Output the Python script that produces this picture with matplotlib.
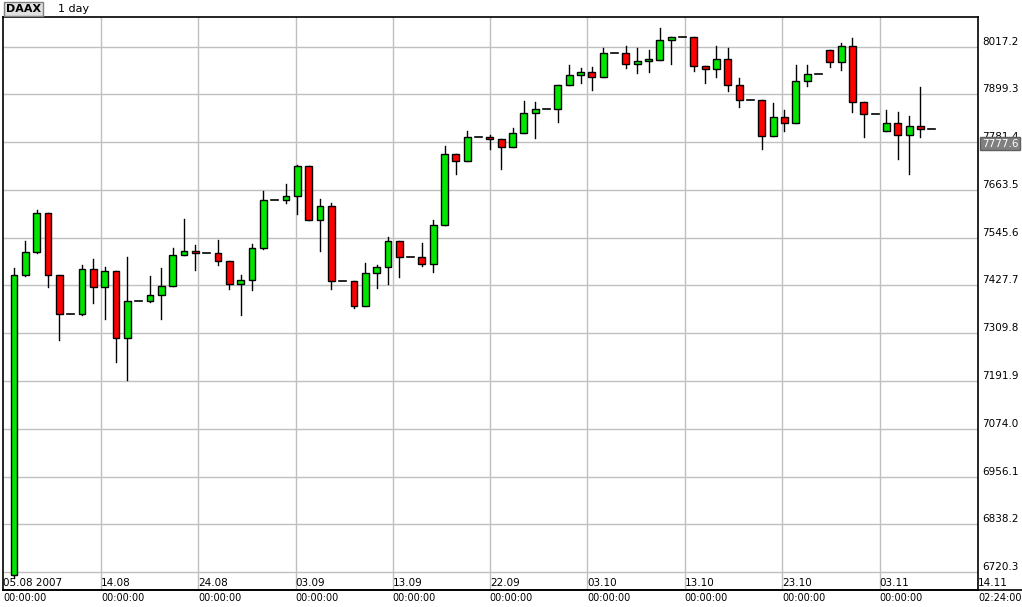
import matplotlib
matplotlib.use("Agg")
import matplotlib.pyplot as plt
from matplotlib.patches import Rectangle
import matplotlib.transforms as mtransforms

opens = [6713, 7452.9, 7509.6, 7605.9, 7452.9, 7356.6, 7356.6, 7467.7, 7424.7, 7462.8,
         7298, 7388.7, 7388.7, 7403.5, 7425.7, 7502.2, 7512.1, 7507.2, 7507.2, 7487.4,
         7430.7, 7440.5, 7519.5, 7638, 7638, 7647.9, 7722, 7588.7, 7623.2, 7438,
         7438, 7376.3, 7457.8, 7472.6, 7536.8, 7497.3, 7497.3, 7480, 7576.3, 7751.6,
         7734.3, 7793.5, 7793.5, 7788.6, 7768.9, 7803.4, 7852.8, 7862.7, 7862.7, 7921.9,
         7946.6, 7954.7, 7943.1, 8000.9, 8000.9, 7973.8, 7981.2, 7983.6, 8033, 8040.4,
         8040.4, 7968.8, 7961.4, 7986.1, 7921.9, 7884.9, 7884.9, 7796, 7842.9, 7828.1,
         7931.8, 7949, 8008.3, 7978.7, 8018.2, 7880, 7850.3, 7808.4, 7828.1, 7798.5,
         7820.7, 7813.3]
highs = [7470.9, 7537, 7614, 7606, 7453, 7356.6, 7478.3, 7493.1, 7473, 7462.8,
         7498, 7388.7, 7451, 7470.9, 7519.5, 7591.9, 7527, 7507.2, 7540, 7487.4,
         7453.6, 7529.4, 7661, 7638, 7678.3, 7725, 7722, 7641.2, 7631.4, 7438,
         7438, 7482.5, 7477.5, 7546.7, 7537, 7497.3, 7532.6, 7588.6, 7771, 7751.6,
         7808.4, 7793.5, 7798.5, 7788.6, 7816.5, 7883.2, 7880, 7862.7, 7921.9, 7972,
         7963.9, 7966.3, 8013.2, 8000.9, 8018.9, 8013.2, 8008.3, 8062.6, 8040.4, 8040.4,
         8040.4, 7968.8, 8018.2, 8013.2, 7939.2, 7884.9, 7884.9, 7877.5, 7860.2, 7971.3,
         7971.3, 7949, 8008.3, 8025.6, 8037.9, 7880, 7850.3, 7860.2, 7855.3, 7845.4,
         7917, 7813.3]
lows = [6705, 7452, 7509, 7424.7, 7293, 7356.6, 7356, 7385, 7344, 7239,
        7194, 7388.7, 7388, 7345.8, 7425.7, 7502, 7465.2, 7507.2, 7477.5, 7419.8,
        7354, 7417.3, 7519, 7638, 7630.6, 7603.5, 7588.7, 7512.1, 7419.8, 7438,
        7371.4, 7376.3, 7420.7, 7430.7, 7448, 7497.3, 7476.6, 7460.3, 7576, 7702.2,
        7734, 7793.5, 7763.9, 7716, 7768.9, 7803, 7791, 7862.7, 7832, 7921.9,
        7928.3, 7910.3, 7943, 8000.9, 7965.4, 7953, 7955.5, 7983.6, 7973.8, 8040.4,
        7956.5, 7926.9, 7941.7, 7907.1, 7869.1, 7884.9, 7763.9, 7796, 7808.4, 7828.1,
        7919.4, 7949, 7966.3, 7960.4, 7855.3, 7793.5, 7850.3, 7808.4, 7739, 7702.2,
        7793.5, 7813.3]
closes = [7453.6, 7509.6, 7605.9, 7452.9, 7356.6, 7356.6, 7467.7, 7424.7, 7462.8, 7298,
          7388.7, 7388.7, 7403.5, 7425.7, 7502.2, 7512.1, 7507.2, 7507.2, 7487.4, 7430.7,
          7440.5, 7519.5, 7638, 7638, 7647.9, 7722, 7588.7, 7623.2, 7438, 7438,
          7376.3, 7457.8, 7472.6, 7536.8, 7497.3, 7497.3, 7480, 7576.3, 7751.6, 7734.3,
          7793.5, 7793.5, 7788.6, 7768.9, 7803.4, 7852.8, 7862.7, 7862.7, 7921.9, 7946.6,
          7954.7, 7943.1, 8000.9, 8000.9, 7973.8, 7981.2, 7986.1, 8033, 8040.4, 8040.4,
          7968.8, 7961.4, 7986.1, 7921.9, 7884.9, 7884.9, 7796, 7842.9, 7828.1, 7931.8,
          7949, 7949, 7978.7, 8018.2, 7880, 7850.3, 7850.3, 7828.1, 7798.5, 7820.7,
          7813.3, 7813.3]

y_ticks = [8017.2, 7899.3, 7781.4, 7663.5, 7545.6, 7427.7, 7309.8, 7191.9, 7074.0, 6956.1, 6838.2, 6720.3]
x_grid = [7.68, 16.24, 24.85, 33.43, 42.0, 50.6, 59.2, 67.8, 76.4]
x_labels = ["05.08 2007", "14.08", "24.08", "03.09", "13.09", "22.09", "03.10", "13.10", "23.10", "03.11", "14.11"]
x_times = ["00:00:00"] * 10 + ["02:24:00"]
last_price = 7777.6

fig = plt.figure(figsize=(10.22, 6.07), dpi=100)
W, H = 1022, 607
L, R, T, B = 3, 978, 17, 590
ax = fig.add_axes([L / W, 1 - B / H, (R - L) / W, (B - T) / H])
ax.set_xlim(-0.97, 85.08)
ax.set_ylim(6676, 8090.5)
for s in ax.spines.values():
    s.set_color("black"); s.set_linewidth(1.2)
ax.set_xticks([]); ax.set_yticks([])

gc = "#c0c0c0"
for y in y_ticks:
    ax.axhline(y, color=gc, lw=1, zorder=0)
for x in x_grid:
    ax.axvline(x, color=gc, lw=1, zorder=0)

bw = 0.6
for i, (o, h, l, c) in enumerate(zip(opens, highs, lows, closes)):
    ax.plot([i, i], [l, h], color="black", lw=1, zorder=2)
    if abs(c - o) < 0.5:
        ax.plot([i - bw / 2, i + bw / 2], [c, c], color="black", lw=1.2, zorder=3)
    else:
        col = "#00e600" if c > o else "#ff0000"
        ax.add_patch(Rectangle((i - bw / 2, min(o, c)), bw, abs(c - o),
                               facecolor=col, edgecolor="black", lw=1, zorder=3))

fs = 7.5
trans = mtransforms.blended_transform_factory(fig.transFigure, ax.transData)
for y in y_ticks:
    fig.text(982 / W, 0, f"{y:.1f}", transform=trans, fontsize=fs, va="bottom",
             ha="left").set_y(y)
# last price box
fig.text(982 / W, last_price, f"{last_price:.1f}", transform=trans, fontsize=fs,
         va="center", ha="left", color="white",
         bbox=dict(boxstyle="square,pad=0.15", facecolor="#808080", edgecolor="#606060"))

xpos = [3] + [14 + 11.33 * g for g in x_grid] + [978]
for xp, lab, tm in zip(xpos, x_labels, x_times):
    fig.text(xp / W, 1 - 588 / H, lab, fontsize=fs, va="bottom", ha="left")
    fig.text(xp / W, 1 - 598 / H, tm, fontsize=fs - 0.5, va="center", ha="left")
fig.add_artist(plt.Line2D([L / W, 1], [1 - B / H, 1 - B / H], color="black", lw=1.2,
                          transform=fig.transFigure))

fig.text(6 / W, 1 - 9 / H, "DAAX", fontsize=8, fontweight="bold", va="center", ha="left",
         bbox=dict(boxstyle="square,pad=0.2", facecolor="#e0e0e0", edgecolor="#808080"))
fig.text(58 / W, 1 - 9 / H, "1 day", fontsize=8, va="center", ha="left")

fig.savefig("out.png", dpi=100)
